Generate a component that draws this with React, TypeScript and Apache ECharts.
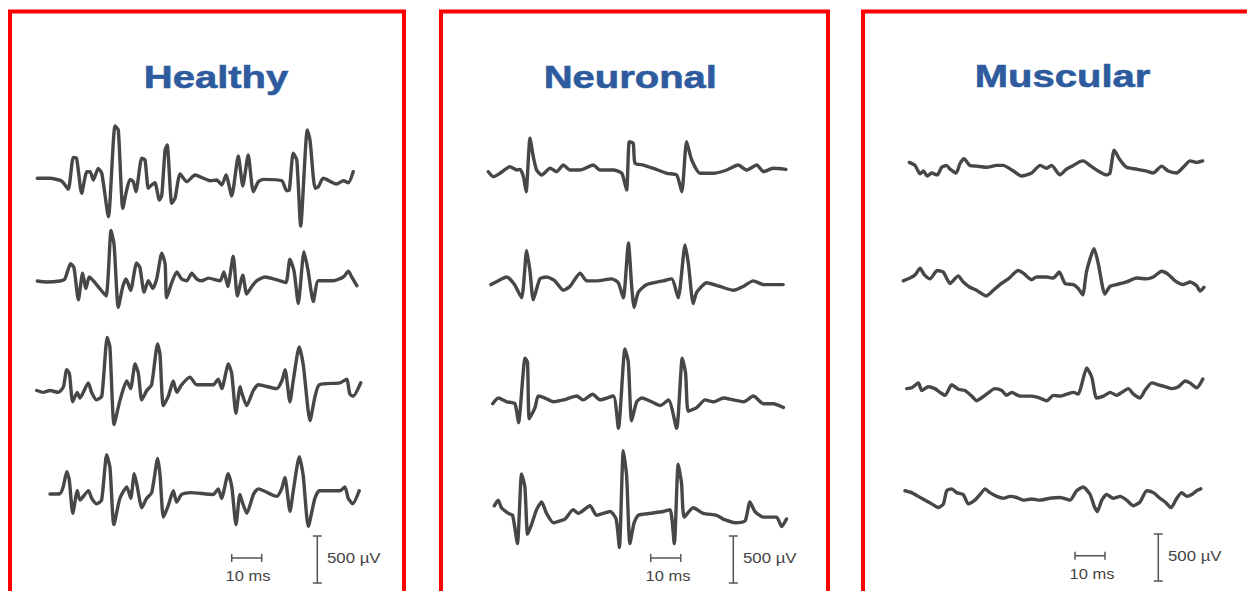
import React, { useEffect, useRef } from "react";
import * as echarts from "echarts";

// ---- Data (time in ms, amplitude in µV) ----
const PANEL_TITLES = ["Healthy", "Neuronal", "Muscular"];
const SCALE_TIME_MS = [0, 10];
const SCALE_AMP_UV = [0, 500];
const SCALE_LABELS = ["10 ms", "500 µV"];

const healthy1: [number, number][] = [[0,0],[4.2,0],[8.1,-29],[10.3,-117],[12.0,223],[13.1,213],[14.8,-160],[16.5,70],[17.6,70],[18.7,-18],[20.3,106],[21.5,53],[23.7,-409],[25.9,556],[27.0,514],[28.5,-319],[29.8,-124],[30.9,-11],[32.0,-36],[32.9,-143],[34.8,213],[35.9,195],[37.0,-106],[38.1,-71],[39.2,-47],[40.7,-231],[41.5,-178],[42.6,301],[43.3,354],[44.8,-266],[45.9,-213],[47.6,46],[49.8,-36],[52.6,35],[57.6,-26],[59.8,-18],[61.5,-71],[62.9,35],[64.8,-188],[67.0,237],[68.5,-82],[70.3,248],[72.0,-143],[73.7,-36],[75.3,-11],[81.5,-26],[83.1,-132],[84.0,-124],[85.3,266],[86.5,195],[87.8,-508],[90.0,514],[90.9,408],[92.6,-106],[93.7,-89],[95.3,0],[99.8,-61],[102.0,-26],[103.7,-47],[105.3,70]];
const healthy2: [number, number][] = [[0,0],[3.1,-11],[7.6,0],[9.2,22],[11.1,183],[12.2,144],[13.7,-199],[15.1,83],[16.2,-79],[17.3,43],[18.7,2],[20.3,-59],[22.9,-159],[24.6,537],[25.6,384],[27.0,-280],[28.5,-59],[29.6,22],[31.1,-98],[33.1,192],[34.2,144],[35.6,-118],[37.0,2],[38.5,-79],[39.8,22],[41.5,296],[42.6,183],[43.1,-179],[44.8,-18],[46.5,95],[48.1,22],[49.8,2],[51.5,83],[53.1,22],[54.8,2],[57.0,31],[60.9,2],[62.2,95],[63.5,-59],[65.3,264],[66.7,-159],[68.5,63],[69.8,-138],[71.5,-59],[73.1,2],[75.9,43],[80.9,2],[82.9,-18],[84.2,232],[85.6,103],[87.0,-239],[88.9,312],[90.3,103],[92.0,-219],[93.7,2],[98.7,2],[102.0,43],[103.7,103],[104.8,43],[106.5,-50]];
const healthy3: [number, number][] = [[0,0],[2.2,-20],[4.4,0],[7.2,-20],[8.9,40],[10.0,221],[10.9,181],[12.0,-120],[13.5,-20],[14.4,-80],[17.2,81],[18.3,-20],[20.0,-100],[21.7,-60],[23.5,564],[24.4,464],[25.8,-362],[27.8,-100],[30.0,101],[31.3,20],[32.8,282],[33.9,181],[35.0,-100],[36.7,0],[38.3,61],[40.3,496],[41.1,383],[42.2,-161],[43.9,-60],[45.5,101],[46.7,-20],[48.3,61],[51.1,142],[53.3,61],[58.9,61],[60.5,121],[61.7,20],[63.9,282],[65.0,181],[66.4,-242],[67.8,40],[68.3,-20],[70.0,-161],[72.2,0],[73.9,61],[80.0,20],[81.7,101],[82.8,221],[84.4,-120],[85.5,101],[87.5,464],[88.9,262],[91.1,-321],[92.8,-60],[94.2,61],[101.1,81],[103.3,121],[104.4,-39],[105.5,-60],[108.0,81]];
const healthy4: [number, number][] = [[0,0],[3.3,3],[4.4,76],[5.6,236],[6.4,156],[7.6,-206],[9.1,35],[10.0,-65],[12.8,35],[13.9,-46],[15.6,-105],[17.2,-65],[18.9,417],[20.0,277],[21.3,-326],[23.3,-46],[25.6,76],[26.9,-46],[28.1,216],[29.1,76],[30.6,-146],[32.2,-46],[33.9,15],[35.9,377],[36.7,196],[37.8,-246],[39.4,-125],[41.1,35],[42.2,-86],[43.9,-5],[46.7,15],[54.4,-5],[56.1,55],[57.2,-46],[59.4,216],[60.6,76],[62.0,-326],[63.3,-5],[63.9,-65],[65.6,-206],[67.8,-5],[69.4,55],[75.6,-25],[77.2,55],[78.3,176],[80.0,-185],[81.1,35],[83.1,397],[84.4,196],[86.1,-346],[88.3,-46],[89.8,35],[96.7,35],[98.3,76],[99.4,-46],[100.9,-105],[103.1,35]];

const neuronal1: [number, number][] = [[0,-18],[1.7,-71],[3.9,-35],[7.2,35],[9.5,0],[10.6,7],[11.7,-71],[12.6,-231],[13.9,337],[15.0,142],[16.1,0],[17.8,-53],[20.6,18],[22.8,-18],[25.0,53],[27.2,0],[30.6,0],[35.0,53],[37.2,0],[41.7,0],[44.5,-35],[46.1,-213],[47.0,301],[48.3,284],[48.9,71],[51.7,53],[55.0,18],[59.5,-35],[62.8,-53],[64.5,-231],[66.1,301],[67.8,106],[70.6,-35],[75.0,-35],[79.5,0],[83.3,53],[86.1,0],[89.5,53],[91.7,-18],[95.0,18],[99.2,7]];
const neuronal2: [number, number][] = [[0,0],[2.3,38],[5.2,81],[7.7,6],[10.2,-140],[11.9,363],[13.0,142],[14.1,-161],[16.3,61],[18.6,81],[21.3,40],[24.1,-60],[26.3,-20],[29.7,121],[31.9,40],[35.2,40],[40.2,61],[42.4,20],[44.1,-140],[45.8,443],[46.9,-20],[47.7,-242],[49.1,-80],[51.9,0],[57.4,40],[60.2,61],[62.4,-140],[64.7,422],[65.8,221],[67.4,-201],[68.6,-80],[71.9,20],[76.3,-20],[80.8,-60],[84.1,-20],[87.4,40],[90.8,0],[97.4,0]];
const neuronal3: [number, number][] = [[0,-20],[1.9,40],[4.7,0],[7.4,-20],[8.6,-221],[10.8,464],[11.6,421],[12.2,-181],[14.1,-61],[15.2,61],[17.4,40],[20.2,0],[23.6,20],[28.0,61],[30.2,20],[33.3,81],[35.8,20],[40.2,61],[41.9,-281],[44.1,563],[45.2,421],[46.3,-201],[48.0,0],[49.7,40],[53.0,0],[55.8,-40],[58.6,20],[61.3,-281],[63.2,464],[64.3,301],[65.2,-101],[68.0,-61],[70.8,20],[73.6,0],[76.9,40],[80.2,20],[83.6,0],[86.9,61],[90.2,-20],[93.6,-20],[96.9,-61]];
const neuronal4: [number, number][] = [[0,81],[1.3,140],[2.4,60],[4.7,0],[6.1,-20],[7.7,-321],[9.1,421],[10.2,280],[11.1,-221],[12.4,-120],[14.1,40],[15.8,121],[17.4,0],[19.7,-100],[21.9,-80],[23.6,-60],[26.3,40],[28.0,0],[31.9,81],[34.1,-20],[38.6,20],[40.6,-60],[41.7,-362],[43.0,668],[44.1,402],[45.2,-321],[46.6,-100],[48.0,-20],[51.9,0],[56.3,20],[58.6,40],[60.0,-321],[61.3,523],[62.4,323],[63.3,-40],[66.3,60],[69.7,0],[74.1,-20],[76.3,-60],[80.8,-100],[83.6,-80],[85.2,121],[86.9,20],[89.7,-40],[94.1,-40],[95.8,-141],[97.4,-60]];

const muscular1: [number, number][] = [[0,52],[1.9,20],[3.6,-69],[4.7,-40],[6.0,-93],[7.4,-61],[9.3,-81],[10.8,0],[12.4,20],[13.6,-20],[15.6,-61],[16.9,40],[18.2,92],[20.2,20],[22.4,12],[25.8,0],[29.1,20],[31.3,20],[34.7,-40],[37.4,-93],[40.8,-61],[43.6,20],[45.8,-10],[47.4,20],[50.2,-81],[52.4,-20],[54.7,20],[56.9,61],[58.0,68],[60.2,20],[63.0,-40],[65.8,-81],[66.9,-61],[68.3,181],[70.2,80],[72.4,0],[75.8,-20],[79.1,-40],[81.3,-61],[84.1,12],[86.3,-40],[89.1,-61],[91.3,0],[93.6,68],[95.8,52],[97.8,68]];
const muscular2: [number, number][] = [[0,0],[2.2,29],[3.9,61],[5.6,133],[6.9,69],[8.9,20],[11.3,109],[13.3,93],[15.6,-28],[18.3,52],[20.0,-12],[22.2,-68],[24.4,-101],[27.6,-161],[30.0,-101],[32.2,-40],[35.0,20],[38.3,109],[40.0,81],[42.8,12],[44.4,40],[47.8,40],[50.0,29],[52.0,93],[53.9,-28],[56.7,-40],[58.3,-81],[59.8,-149],[61.1,101],[63.6,342],[65.0,181],[67.2,-141],[68.9,-60],[71.1,-40],[74.4,-12],[77.8,29],[81.1,20],[83.3,40],[86.1,101],[88.3,69],[90.6,0],[93.3,-40],[95.6,-12],[97.8,-52],[98.9,-109],[100.2,-69]];
const muscular3: [number, number][] = [[0,20],[1.7,29],[3.9,81],[5.0,0],[7.2,40],[9.4,20],[11.1,-20],[12.8,-52],[15.0,61],[17.2,13],[19.4,0],[21.7,-60],[23.3,-109],[26.1,-52],[29.4,20],[31.7,0],[33.3,-52],[35.0,-20],[37.8,-60],[41.7,-60],[44.4,-80],[46.7,-109],[48.9,-52],[51.1,-60],[53.3,-39],[55.6,-20],[57.2,-39],[58.3,61],[60.0,241],[61.7,141],[63.3,-80],[65.6,-60],[67.8,-20],[70.0,-52],[71.7,-20],[73.9,20],[75.6,-39],[77.8,-80],[79.4,0],[81.7,81],[83.9,61],[86.1,40],[88.3,20],[90.6,40],[92.8,101],[94.4,81],[96.7,29],[98.7,121]];
const muscular4: [number, number][] = [[0,56],[2.2,36],[4.4,-4],[6.7,-44],[8.9,-84],[11.1,-124],[12.8,-84],[13.9,56],[15.6,76],[17.2,36],[19.4,16],[21.1,-84],[23.3,-44],[25.0,16],[26.7,76],[28.3,36],[30.6,-4],[32.8,-24],[35.0,-4],[37.2,-16],[39.4,-44],[42.2,-32],[45.0,-44],[48.3,-24],[51.7,-16],[55.0,-44],[57.2,56],[59.4,96],[61.7,16],[63.0,-104],[64.1,-165],[65.6,-44],[67.2,16],[69.4,-24],[71.7,-4],[73.9,-44],[76.1,-104],[78.3,-64],[80.6,56],[82.8,36],[85.0,-24],[86.7,-64],[88.7,-124],[90.6,-24],[92.2,36],[93.9,-4],[95.6,16],[97.2,56],[98.6,76]];

const TRACES = [healthy1, healthy2, healthy3, healthy4, neuronal1, neuronal2, neuronal3, neuronal4, muscular1, muscular2, muscular3, muscular4];

// ---- Layout (pixels) ----
const PX_PER_MS = 3;
const PX_PER_UV = 47 / 500;
const T_MAX = 110;
const UV_RANGE = 800;
// [left of t=0, baseline y]
const TRACE_POS = [
  [37.3, 178.3], [37.3, 281], [36.7, 390.5], [50, 494],
  [488.3, 170], [491, 284.6], [492.7, 401.8], [494.3, 513.4],
  [909.3, 167.3], [903.3, 280.8], [906.7, 390.5], [905, 496],
];
const PANEL_BOX = [[10, 394], [441, 387], [863, 400]];
const TITLE_POS = [[216, 77], [630.3, 77], [1062.5, 76]];
// hx, hy, vx, vTop, msLabelX, msLabelY, uvLabelX, uvLabelY
const SCALE_POS = [
  [231.7, 558, 317.3, 536, 248, 576, 327, 558],
  [650.7, 558, 733.3, 536, 668, 576, 743, 558],
  [1075, 555.7, 1158.3, 534, 1092, 574, 1168, 555.5],
];

const TRACE_COLOR = "#474747";
const TITLE_COLOR = "#2E5B9E";
const FONT = '"Liberation Sans", Arial, Helvetica, sans-serif';

function buildOption() {
  const grid: any[] = [];
  const xAxis: any[] = [];
  const yAxis: any[] = [];
  const series: any[] = [];

  TRACES.forEach((data, i) => {
    const [left, base] = TRACE_POS[i];
    grid.push({
      left,
      top: base - UV_RANGE * PX_PER_UV,
      width: T_MAX * PX_PER_MS,
      height: 2 * UV_RANGE * PX_PER_UV,
    });
    xAxis.push({ type: "value", gridIndex: i, min: 0, max: T_MAX, show: false });
    yAxis.push({ type: "value", gridIndex: i, min: -UV_RANGE, max: UV_RANGE, show: false });
    series.push({
      type: "line",
      xAxisIndex: i,
      yAxisIndex: i,
      data,
      symbol: "none",
      smooth: 0.2,
      clip: false,
      lineStyle: { color: TRACE_COLOR, width: 3.4, join: "round", cap: "round" },
      silent: true,
    });
  });

  SCALE_POS.forEach((p) => {
    const [hx, hy, vx, vTop] = p;
    let gi = grid.length;
    grid.push({ left: hx, top: hy - 10, width: (SCALE_TIME_MS[1] - SCALE_TIME_MS[0]) * PX_PER_MS, height: 20 });
    xAxis.push({ type: "value", gridIndex: gi, min: SCALE_TIME_MS[0], max: SCALE_TIME_MS[1], show: false });
    yAxis.push({ type: "value", gridIndex: gi, min: -1, max: 1, show: false });
    series.push({
      type: "line", xAxisIndex: gi, yAxisIndex: gi,
      data: [[SCALE_TIME_MS[0], 0], [SCALE_TIME_MS[1], 0]],
      symbol: "rect", symbolSize: [1.5, 8], showSymbol: true, clip: false,
      itemStyle: { color: "#555555" },
      lineStyle: { color: "#555555", width: 1.5 }, silent: true,
    });
    gi = grid.length;
    grid.push({ left: vx - 10, top: vTop, width: 20, height: (SCALE_AMP_UV[1] - SCALE_AMP_UV[0]) * PX_PER_UV });
    xAxis.push({ type: "value", gridIndex: gi, min: -1, max: 1, show: false });
    yAxis.push({ type: "value", gridIndex: gi, min: SCALE_AMP_UV[0], max: SCALE_AMP_UV[1], show: false });
    series.push({
      type: "line", xAxisIndex: gi, yAxisIndex: gi,
      data: [[0, SCALE_AMP_UV[0]], [0, SCALE_AMP_UV[1]]],
      symbol: "rect", symbolSize: [9, 1.5], showSymbol: true, clip: false,
      itemStyle: { color: "#555555" },
      lineStyle: { color: "#555555", width: 1.5 }, silent: true,
    });
  });

  const graphic: any[] = [];
  PANEL_BOX.forEach(([x, w]) => {
    graphic.push({
      type: "rect", silent: true,
      shape: { x, y: 11.5, width: w, height: 640 },
      style: { fill: "none", stroke: "#ff0000", lineWidth: 4 },
    });
  });
  PANEL_TITLES.forEach((t, i) => {
    graphic.push({
      type: "text", silent: true,
      x: TITLE_POS[i][0], y: TITLE_POS[i][1], scaleX: 1.25,
      style: {
        text: t, fill: TITLE_COLOR, fontSize: 32, fontWeight: "bold", fontFamily: FONT,
        textAlign: "center", textVerticalAlign: "middle",
        stroke: TITLE_COLOR, lineWidth: 0.6,
      },
    });
  });
  SCALE_POS.forEach((p) => {
    graphic.push({
      type: "text", silent: true, x: p[4], y: p[5], scaleX: 1.1,
      style: { text: SCALE_LABELS[0], fill: "#444444", fontSize: 15, fontFamily: FONT, textAlign: "center", textVerticalAlign: "middle" },
    });
    graphic.push({
      type: "text", silent: true, x: p[6], y: p[7], scaleX: 1.12,
      style: { text: SCALE_LABELS[1], fill: "#444444", fontSize: 15, fontFamily: FONT, textAlign: "left", textVerticalAlign: "middle" },
    });
  });

  return { animation: false, backgroundColor: "#ffffff", grid, xAxis, yAxis, series, graphic };
}

export default function App() {
  const ref = useRef<HTMLDivElement>(null);
  useEffect(() => {
    if (!ref.current) return;
    const chart = echarts.init(ref.current, null, { renderer: "svg" });
    chart.setOption(buildOption());
    return () => chart.dispose();
  }, []);
  return (
    <div
      ref={ref}
      style={{ position: "absolute", left: 0, top: 0, width: 1247, height: 591, background: "#fff" }}
    />
  );
}
